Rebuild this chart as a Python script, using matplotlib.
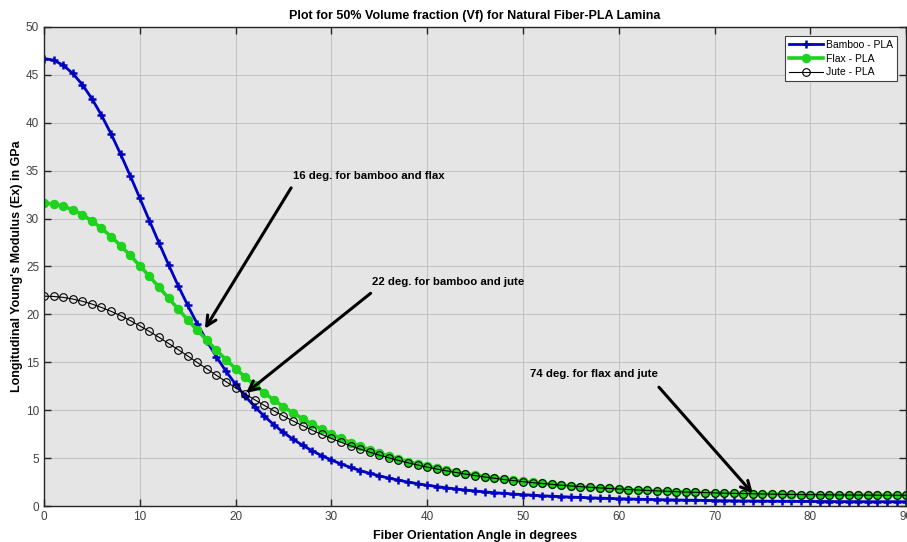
import matplotlib
matplotlib.use("Agg")
import matplotlib.pyplot as plt

# fiber orientation angle, one point per degree
angles = list(range(0, 91))

# longitudinal modulus Ex (GPa) at 50% Vf
bamboo = [46.70, 46.53, 46.00, 45.15, 43.98, 42.51, 40.78, 38.84, 36.71, 34.47,
          32.14, 29.79, 27.47, 25.19, 23.01, 20.95, 19.01, 17.22, 15.57, 14.07,
          12.70, 11.47, 10.36, 9.37, 8.48, 7.68, 6.97, 6.33, 5.76, 5.25,
          4.80, 4.39, 4.03, 3.70, 3.41, 3.15, 2.91, 2.70, 2.50, 2.33,
          2.17, 2.03, 1.90, 1.78, 1.67, 1.57, 1.48, 1.39, 1.32, 1.25,
          1.19, 1.13, 1.07, 1.02, 0.98, 0.93, 0.90, 0.86, 0.82, 0.79,
          0.76, 0.74, 0.71, 0.69, 0.67, 0.65, 0.63, 0.61, 0.60, 0.58,
          0.57, 0.55, 0.54, 0.53, 0.52, 0.51, 0.50, 0.50, 0.49, 0.48,
          0.48, 0.47, 0.47, 0.46, 0.46, 0.46, 0.45, 0.45, 0.45, 0.45, 0.45]

flax = [31.60, 31.52, 31.29, 30.91, 30.40, 29.75, 28.98, 28.12, 27.17, 26.15,
        25.08, 23.97, 22.84, 21.70, 20.56, 19.44, 18.35, 17.29, 16.26, 15.28,
        14.34, 13.45, 12.61, 11.81, 11.06, 10.36, 9.71, 9.10, 8.53, 8.00,
        7.51, 7.05, 6.62, 6.23, 5.86, 5.52, 5.21, 4.92, 4.64, 4.39,
        4.16, 3.94, 3.74, 3.56, 3.38, 3.22, 3.07, 2.93, 2.80, 2.68,
        2.56, 2.46, 2.36, 2.27, 2.18, 2.10, 2.03, 1.96, 1.89, 1.83,
        1.77, 1.72, 1.67, 1.62, 1.58, 1.54, 1.50, 1.46, 1.43, 1.40,
        1.37, 1.34, 1.32, 1.30, 1.27, 1.25, 1.24, 1.22, 1.20, 1.19,
        1.18, 1.17, 1.16, 1.15, 1.14, 1.13, 1.13, 1.13, 1.12, 1.12, 1.12]

jute = [21.90, 21.87, 21.77, 21.60, 21.37, 21.08, 20.72, 20.32, 19.86, 19.35,
        18.80, 18.22, 17.61, 16.97, 16.32, 15.66, 14.98, 14.31, 13.64, 12.98,
        12.33, 11.70, 11.09, 10.50, 9.93, 9.39, 8.87, 8.38, 7.91, 7.47,
        7.05, 6.66, 6.29, 5.94, 5.62, 5.31, 5.03, 4.76, 4.51, 4.28,
        4.06, 3.86, 3.67, 3.50, 3.33, 3.18, 3.03, 2.90, 2.77, 2.65,
        2.54, 2.44, 2.35, 2.26, 2.17, 2.09, 2.02, 1.95, 1.89, 1.83,
        1.77, 1.72, 1.67, 1.62, 1.58, 1.54, 1.50, 1.46, 1.43, 1.40,
        1.37, 1.34, 1.32, 1.30, 1.28, 1.26, 1.24, 1.22, 1.21, 1.19,
        1.18, 1.17, 1.16, 1.15, 1.14, 1.14, 1.13, 1.13, 1.12, 1.12, 1.12]

# crossing annotations: label, text position, arrow tail, arrow head
notes = [
    ("16 deg. for bamboo and flax", (26.0, 33.9), (25.8, 33.2), (16.8, 18.5)),
    ("22 deg. for bamboo and jute", (34.2, 22.9), (34.1, 22.2), (21.1, 11.8)),
    ("74 deg. for flax and jute", (50.7, 13.3), (64.2, 12.4), (74.0, 1.3)),
]

plt.rcParams['font.family'] = ['Liberation Sans', 'DejaVu Sans']

fig = plt.figure(figsize=(9.07, 5.42), dpi=100)
ax = fig.add_axes([0.0485, 0.0664, 0.9505, 0.884])
ax.set_facecolor('#e5e5e5')

ax.plot(angles, bamboo, color='#0000c0', lw=2.0, marker='+', ms=5.5, mew=1.8,
        label='Bamboo - PLA')
ax.plot(angles, flax, color='#1ed21e', lw=2.6, marker='o', ms=5.8,
        mfc='#1ed21e', mec='#1ed21e', label='Flax - PLA')
ax.plot(angles, jute, color='black', lw=0.8, marker='o', ms=5.5,
        mfc='none', mec='black', mew=0.8, label='Jute - PLA')

for label, txt, tail, head in notes:
    ax.annotate('', xy=head, xytext=tail,
                arrowprops=dict(arrowstyle='->, head_length=0.7, head_width=0.35',
                                lw=2.2, color='black', shrinkA=0, shrinkB=0))
    ax.text(txt[0], txt[1], label, fontsize=8.2, fontweight='bold',
            ha='left', va='bottom')

ax.set_xlim(0, 90)
ax.set_ylim(0, 50)
ax.set_xticks(range(0, 91, 10))
ax.set_yticks(range(0, 51, 5))
ax.grid(True, color='#c4c4c4', lw=0.8)
ax.set_axisbelow(True)
ax.tick_params(direction='in', top=True, right=True, length=5, width=1,
               labelsize=8.5, labelcolor='#404040', color='#262626')
for s in ax.spines.values():
    s.set_color('#262626')
    s.set_linewidth(1)

ax.set_title('Plot for 50% Volume fraction (Vf) for Natural Fiber-PLA Lamina',
             fontsize=9, fontweight='bold', pad=6)
ax.set_xlabel('Fiber Orientation Angle in degrees', fontsize=9,
              fontweight='bold', labelpad=5)
ax.set_ylabel("Longitudinal Young's Modulus (Ex) in GPa", fontsize=9,
              fontweight='bold', labelpad=2)

leg = ax.legend(loc='upper right', fontsize=7.5, fancybox=False,
                framealpha=1, edgecolor='#404040', handlelength=3.3,
                borderaxespad=0.9, labelspacing=0.35, handletextpad=0.3,
                borderpad=0.35)
leg.get_frame().set_linewidth(0.8)

fig.savefig('out.png', dpi=100)
